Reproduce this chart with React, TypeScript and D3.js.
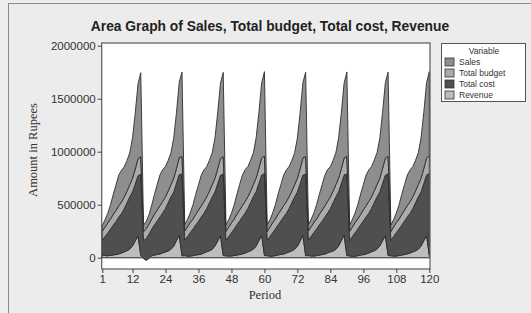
import React, { useRef, useEffect } from "react";
import * as d3 from "d3";

// 120 monthly periods, values in rupees
const periods: number[] = d3.range(1, 121);

const revenue: number[] = [
  25000, 20000, 18000, 22000, 26000, 30000, 36000, 44000, 55000, 66000, 82000, 112000, 158000, 205000, 22000,
  -8000, -24000, -6000, 18000, 24000, 31000, 35000, 46000, 54000, 64000, 80000, 108000, 162000, 212000, 18000,
  20000, 14000, 15000, 19000, 25000, 29000, 34000, 45000, 56000, 65000, 79000, 110000, 160000, 208000, 20000,
  18000, 15000, 16000, 21000, 25000, 30000, 36000, 44000, 55000, 66000, 81000, 111000, 161000, 210000, 21000,
  19000, 14000, 15000, 20000, 26000, 31000, 35000, 45000, 54000, 65000, 80000, 109000, 159000, 209000, 19000,
  20000, 16000, 15000, 20000, 24000, 30000, 34000, 46000, 55000, 64000, 79000, 110000, 162000, 211000, 20000,
  17000, 12000, 14000, 19000, 25000, 29000, 35000, 45000, 56000, 66000, 81000, 112000, 160000, 207000, 22000,
  18000, 15000, 16000, 20000, 25000, 30000, 36000, 44000, 55000, 65000, 80000, 110000, 161000, 209000, 24000,
];

const totalCost: number[] = [
  140000, 180000, 215000, 248000, 282000, 312000, 348000, 372000, 408000, 452000, 492000, 508000, 538000, 568000, 765000,
  170000, 205000, 228000, 252000, 286000, 316000, 351000, 376000, 411000, 456000, 496000, 511000, 541000, 571000, 772000,
  146000, 186000, 221000, 251000, 284000, 314000, 349000, 374000, 409000, 454000, 494000, 509000, 539000, 569000, 769000,
  145000, 184000, 219000, 249000, 286000, 316000, 351000, 377000, 411000, 456000, 497000, 512000, 541000, 570000, 771000,
  144000, 185000, 220000, 250000, 285000, 315000, 350000, 375000, 410000, 455000, 495000, 510000, 540000, 570000, 770000,
  146000, 186000, 222000, 251000, 286000, 314000, 349000, 376000, 409000, 454000, 496000, 511000, 539000, 569000, 772000,
  147000, 187000, 221000, 252000, 285000, 316000, 351000, 375000, 411000, 456000, 494000, 509000, 541000, 572000, 769000,
  145000, 185000, 220000, 250000, 284000, 315000, 350000, 374000, 410000, 455000, 495000, 510000, 540000, 571000, 770000,
];

const totalBudget: number[] = [
  85000, 88000, 95000, 96000, 100000, 104000, 106000, 110000, 111000, 110000, 114000, 130000, 141000, 160000, 166000,
  84000, 90000, 94000, 95000, 101000, 105000, 105000, 109000, 110000, 111000, 115000, 131000, 139000, 161000, 164000,
  86000, 91000, 96000, 94000, 99000, 106000, 104000, 111000, 109000, 110000, 116000, 129000, 140000, 159000, 165000,
  85000, 89000, 95000, 95000, 100000, 105000, 105000, 110000, 110000, 109000, 115000, 130000, 142000, 160000, 166000,
  84000, 90000, 94000, 96000, 101000, 104000, 106000, 109000, 111000, 110000, 114000, 131000, 140000, 161000, 165000,
  86000, 90000, 95000, 95000, 100000, 105000, 105000, 110000, 110000, 111000, 115000, 130000, 139000, 160000, 164000,
  85000, 91000, 96000, 96000, 99000, 106000, 104000, 111000, 109000, 110000, 116000, 129000, 141000, 159000, 166000,
  84000, 90000, 95000, 95000, 100000, 105000, 105000, 110000, 110000, 110000, 115000, 130000, 140000, 160000, 165000,
];

const sales: number[] = [
  55000, 70000, 92000, 135000, 190000, 242000, 290000, 300000, 284000, 290000, 302000, 380000, 530000, 708000, 792000,
  62000, 72000, 90000, 133000, 188000, 240000, 292000, 302000, 286000, 288000, 300000, 382000, 528000, 712000, 796000,
  60000, 70000, 91000, 136000, 191000, 238000, 291000, 299000, 285000, 291000, 301000, 379000, 531000, 710000, 794000,
  59000, 71000, 89000, 134000, 189000, 241000, 289000, 301000, 284000, 290000, 299000, 381000, 529000, 709000, 797000,
  61000, 69000, 92000, 135000, 190000, 240000, 290000, 300000, 286000, 289000, 302000, 380000, 532000, 711000, 795000,
  60000, 70000, 90000, 136000, 188000, 242000, 291000, 301000, 285000, 290000, 300000, 381000, 530000, 708000, 796000,
  58000, 72000, 91000, 134000, 191000, 239000, 290000, 299000, 284000, 291000, 301000, 380000, 529000, 712000, 793000,
  60000, 70000, 90000, 135000, 190000, 241000, 289000, 300000, 285000, 289000, 300000, 379000, 531000, 710000, 796000,
];

const variables: string[] = ["Sales", "Total budget", "Total cost", "Revenue"];
const colors: Record<string, string> = {
  "Sales": "#8e8e8e",
  "Total budget": "#ababab",
  "Total cost": "#4f4f4f",
  "Revenue": "#bdbdbd",
};
const yTicks: number[] = [0, 500000, 1000000, 1500000, 2000000];
const xTicks: number[] = [1, 12, 24, 36, 48, 60, 72, 84, 96, 108, 120];

const sans = "Tahoma, 'Liberation Sans', Arial, sans-serif";
const serif = "'Liberation Serif', 'Times New Roman', serif";

function AreaChart() {
  const svgRef = useRef<SVGSVGElement>(null);

  useEffect(() => {
    const svg = d3.select(svgRef.current);
    svg.selectAll("*").remove();

    const width = 531;
    const height = 313;
    const frame = { left: 101.7, top: 43, right: 430, bottom: 269 };

    // background panel
    svg.append("rect").attr("width", width).attr("height", height).attr("fill", "#ededed");
    svg.append("rect")
      .attr("x", 8.5).attr("y", 3.5)
      .attr("width", width + 10).attr("height", height + 10)
      .attr("fill", "#ececec").attr("stroke", "#8a8a8a");

    // scales
    const xScale = d3.scaleLinear().domain([1, 120]).range([102.3, 429.3]);
    const yScale = d3.scaleLinear().domain([0, 2000000]).range([257.7, 45.7]);

    // plot area
    svg.append("rect")
      .attr("x", frame.left).attr("y", frame.top)
      .attr("width", frame.right - frame.left).attr("height", frame.bottom - frame.top)
      .attr("fill", "#ffffff");

    const table = periods.map((p, i) => ({
      period: p,
      "Revenue": revenue[i],
      "Total cost": totalCost[i],
      "Total budget": totalBudget[i],
      "Sales": sales[i],
    }));

    // bottom to top
    const stack = d3.stack<any>().keys(["Revenue", "Total cost", "Total budget", "Sales"]);
    const layers = stack(table);

    const area = d3.area<any>()
      .x((d) => xScale(d.data.period))
      .y0((d) => yScale(d[0]))
      .y1((d) => yScale(d[1]));

    svg.append("g")
      .selectAll("path")
      .data(layers)
      .join("path")
      .attr("d", (d) => area(d as any))
      .attr("fill", (d) => colors[d.key])
      .attr("stroke", "#2e2e2e")
      .attr("stroke-width", 0.9)
      .attr("stroke-linejoin", "round");

    // zero line
    svg.append("line")
      .attr("x1", frame.left).attr("x2", frame.right)
      .attr("y1", yScale(0)).attr("y2", yScale(0))
      .attr("stroke", "#555").attr("stroke-width", 1);

    // frame
    svg.append("rect")
      .attr("x", frame.left).attr("y", frame.top)
      .attr("width", frame.right - frame.left).attr("height", frame.bottom - frame.top)
      .attr("fill", "none").attr("stroke", "#5a5a5a").attr("stroke-width", 1.2);

    // axes
    const yAxis = d3.axisLeft(yScale).tickValues(yTicks).tickSize(4).tickPadding(2).tickFormat(d3.format("d"));
    const gy = svg.append("g").attr("transform", `translate(${frame.left},0)`).call(yAxis);
    gy.select(".domain").remove();
    gy.selectAll("line").attr("stroke", "#444");
    gy.selectAll("text").attr("font-family", sans).attr("font-size", 11.5).attr("fill", "#333");

    const xAxis = d3.axisBottom(xScale).tickValues(xTicks).tickSize(4).tickPadding(2).tickFormat(d3.format("d"));
    const gx = svg.append("g").attr("transform", `translate(0,${frame.bottom})`).call(xAxis);
    gx.select(".domain").remove();
    gx.selectAll("line").attr("stroke", "#444");
    gx.selectAll("text").attr("font-family", sans).attr("font-size", 11.5).attr("fill", "#333");

    // titles
    svg.append("text")
      .attr("x", 270).attr("y", 31)
      .attr("text-anchor", "middle")
      .attr("font-family", sans).attr("font-weight", "bold").attr("font-size", 13.8)
      .attr("fill", "#222")
      .text("Area Graph of Sales, Total budget, Total cost, Revenue");

    svg.append("text")
      .attr("x", 265).attr("y", 299)
      .attr("text-anchor", "middle")
      .attr("font-family", serif).attr("font-size", 12.5)
      .attr("fill", "#333")
      .text("Period");

    svg.append("text")
      .attr("transform", "translate(37,150) rotate(-90)")
      .attr("text-anchor", "middle")
      .attr("font-family", serif).attr("font-size", 12.5)
      .attr("fill", "#333")
      .text("Amount in Rupees");

    // legend
    const lg = svg.append("g");
    lg.append("rect")
      .attr("x", 441.5).attr("y", 43.5).attr("width", 84).attr("height", 58)
      .attr("fill", "#ffffff").attr("stroke", "#555");
    lg.append("text")
      .attr("x", 484).attr("y", 54)
      .attr("text-anchor", "middle")
      .attr("font-family", sans).attr("font-size", 8.5).attr("fill", "#333")
      .text("Variable");
    const rows = lg.selectAll("g.row").data(variables).join("g")
      .attr("class", "row")
      .attr("transform", (d, i) => `translate(445,${58 + i * 11})`);
    rows.append("rect")
      .attr("width", 9).attr("height", 8)
      .attr("fill", (d) => colors[d]).attr("stroke", "#333").attr("stroke-width", 0.8);
    rows.append("text")
      .attr("x", 14).attr("y", 7)
      .attr("font-family", sans).attr("font-size", 8.5).attr("fill", "#333")
      .text((d) => d);
  }, []);

  return <svg ref={svgRef} width={531} height={313} style={{ position: "absolute", left: 0, top: 0 }} />;
}

export default function App() {
  return <AreaChart />;
}
